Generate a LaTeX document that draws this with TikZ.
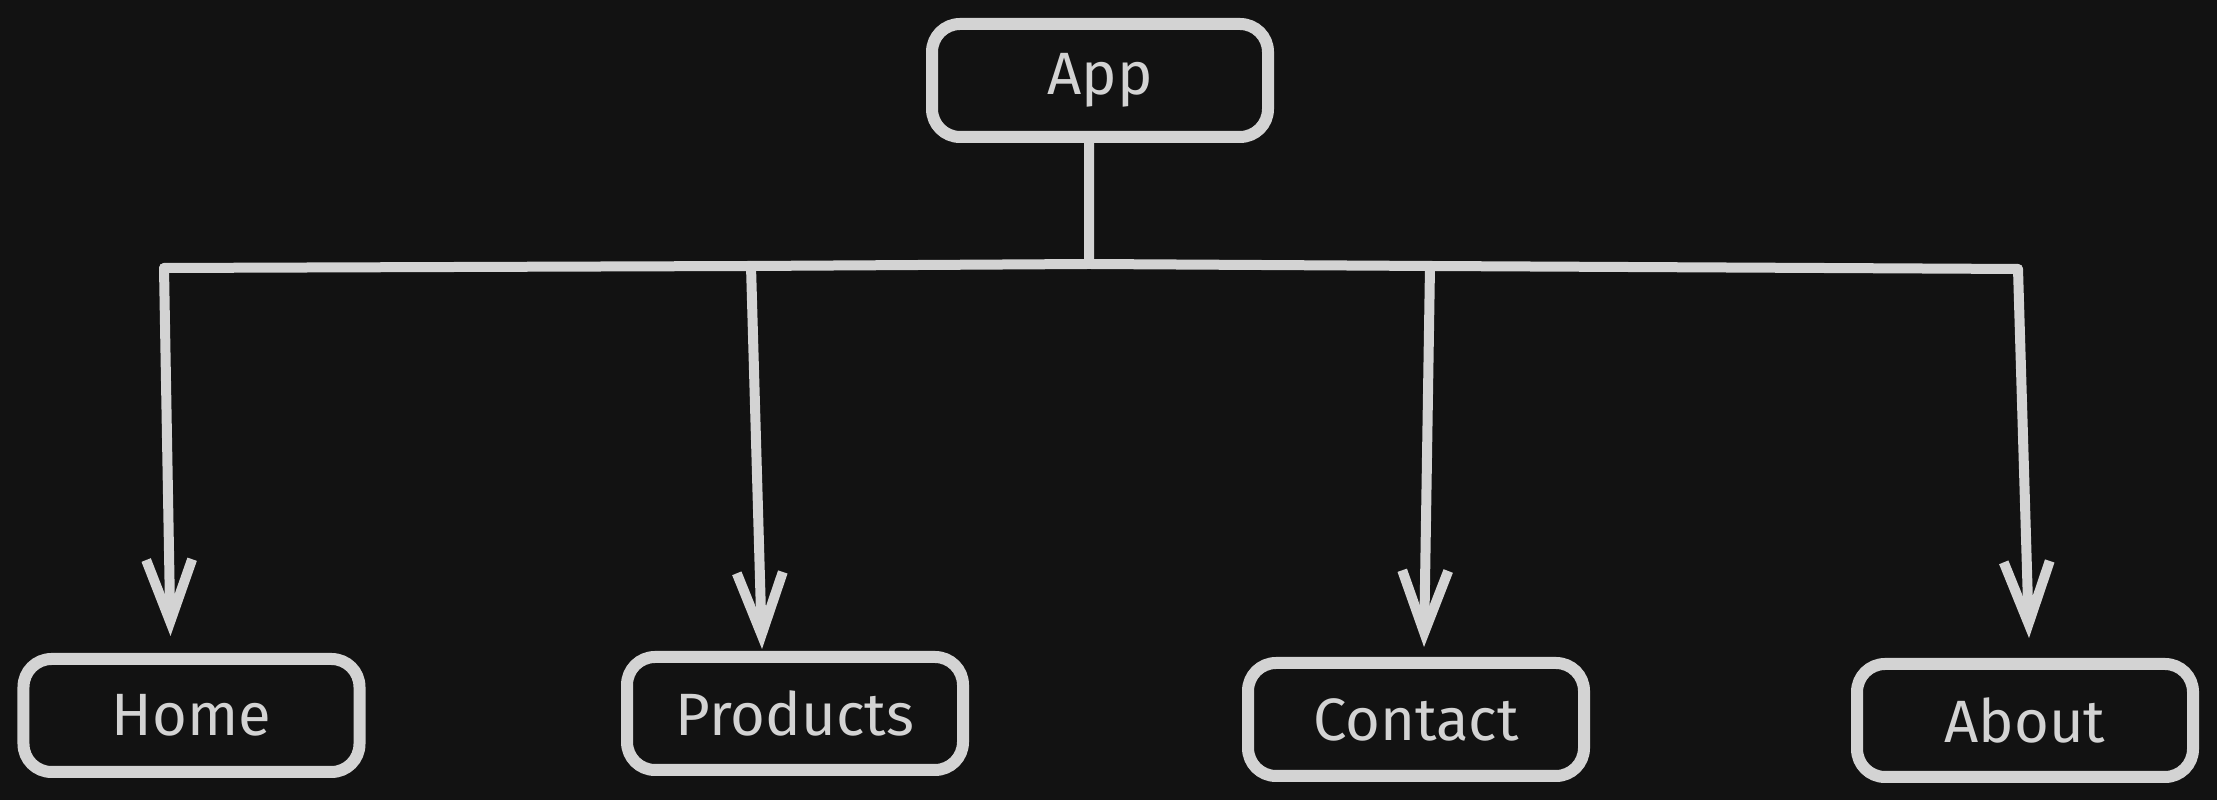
\documentclass[tikz,border=0pt]{standalone}
\usepackage{fontspec}
\setmainfont{Fira Sans}
\usetikzlibrary{arrows.meta}
\definecolor{bgdark}{HTML}{121212}
\definecolor{inkgray}{HTML}{D3D3D3}
\begin{document}
\begin{tikzpicture}[
    pagebox/.style={draw=inkgray, fill=bgdark, line width=0.12cm, rounded corners=0.28cm,
        minimum width=3.36cm, minimum height=1.13cm, text=inkgray,
        font=\fontsize{17}{20}\selectfont},
    wire/.style={draw=inkgray, line width=0.1cm, line cap=round, line join=round},
    pointer/.style={wire, -{Straight Barb[length=0.62cm, width=0.46cm, line width=0.1cm]}}
]
    \fill[bgdark] (0, 0) rectangle (22.17, 8);
    \useasboundingbox (0, 0) rectangle (22.17, 8);

    \node[pagebox] (app) at (11.00, 7.195) {App};

    \node[pagebox] (home) at (1.915, 0.845) {Home};
    \node[pagebox] (products) at (7.95, 0.865) {Products};
    \node[pagebox] (contact) at (14.16, 0.805) {Contact};
    \node[pagebox] (about) at (20.25, 0.795) {About};

    \coordinate (hub) at (10.89, 5.36);
    \coordinate (b1) at (1.64, 5.32);
    \coordinate (b2) at (7.51, 5.34);
    \coordinate (b3) at (14.30, 5.34);
    \coordinate (b4) at (20.18, 5.31);

    \draw[wire] ([xshift=-0.11cm]app.south) -- (hub);
    \draw[wire] (b1) -- (b2) -- (hub) -- (b3) -- (b4);

    \draw[pointer] (b1) -- ([xshift=-0.21cm, yshift=0.17cm]home.north);
    \draw[pointer] (b2) -- ([xshift=-0.33cm, yshift=0.02cm]products.north);
    \draw[pointer] (b3) -- ([xshift=0.08cm, yshift=0.10cm]contact.north);
    \draw[pointer] (b4) -- ([xshift=0.04cm, yshift=0.20cm]about.north);
\end{tikzpicture}
\end{document}
